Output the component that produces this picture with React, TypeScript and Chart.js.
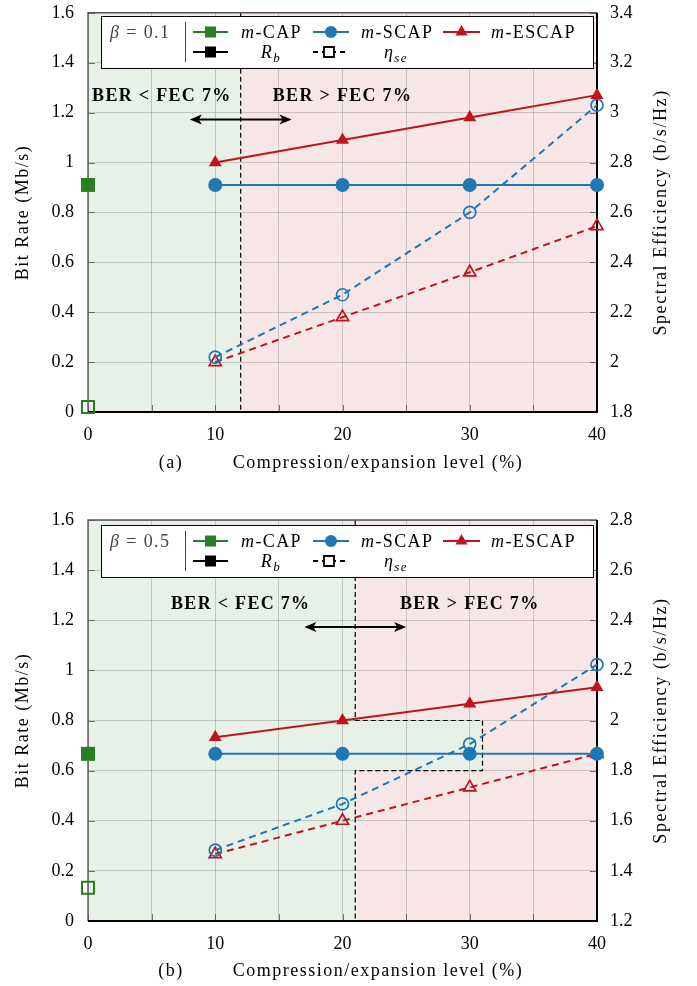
import React, { useEffect, useRef } from 'react';
import { Chart, registerables } from 'chart.js';

Chart.register(...registerables);

const FONT = '"Liberation Serif", "Times New Roman", serif';
const GREEN = '#2a7e22';
const BLUE = '#1f77b4';
const RED = '#c0141c';
const GREEN_BG = 'rgb(232,241,231)';
const RED_BG = 'rgb(247,230,230)';

// ---------------- data ----------------
const capLevel = [0];
const levels = [10, 20, 30, 40];
const rateRange = [0, 1.6];
const levelRange = [0, 40];

// panel (a): beta = 0.1
const aCapRate = [0.91];
const aCapEff = [1.82];
const aScapRate = [0.91, 0.91, 0.91, 0.91];
const aEscapRate = [1.0, 1.09, 1.18, 1.27];
const aScapEff = [2.02, 2.27, 2.6, 3.03];
const aEscapEff = [2.0, 2.18, 2.36, 2.545];
const aEffRange = [1.8, 3.4];
const aFecLimit = 12;

// panel (b): beta = 0.5
const bCapRate = [0.667];
const bCapEff = [1.333];
const bScapRate = [0.667, 0.667, 0.667, 0.667];
const bEscapRate = [0.733, 0.8, 0.867, 0.933];
const bScapEff = [1.483, 1.667, 1.906, 2.223];
const bEscapEff = [1.467, 1.6, 1.733, 1.867];
const bEffRange = [1.2, 2.8];
const bFecLimit = 21;
const bInsetX = [21, 31];
const bInsetY = [0.6, 0.8];

type Panel = {
  tag: string; beta: string;
  capRate: number[]; capEff: number[]; scapRate: number[]; escapRate: number[];
  scapEff: number[]; escapEff: number[]; effRange: number[]; limit: number;
  inset: null | { x: number[]; y: number[] };
  belowX: number; aboveX: number; textY: number; arrowX: number[]; arrowY: number;
  canvasTop: number; canvasH: number; topPad: number; xH: number; legendTop: number; titleBase: number;
};

// legendTop / titleBase are page coordinates; converted to canvas coordinates when drawing
const panels: Panel[] = [
  {
    tag: '(a)', beta: '0.1', capRate: aCapRate, capEff: aCapEff, scapRate: aScapRate, escapRate: aEscapRate,
    scapEff: aScapEff, escapEff: aEscapEff, effRange: aEffRange, limit: aFecLimit, inset: null,
    belowX: 5.8, aboveX: 20, textY: 1.272, arrowX: [8, 16], arrowY: 1.172,
    canvasTop: -12, canvasH: 505, topPad: 24, xH: 81, legendTop: 16, titleBase: 468,
  },
  {
    tag: '(b)', beta: '0.5', capRate: bCapRate, capEff: bCapEff, scapRate: bScapRate, escapRate: bEscapRate,
    scapEff: bScapEff, escapEff: bEscapEff, effRange: bEffRange, limit: bFecLimit, inset: { x: bInsetX, y: bInsetY },
    belowX: 12, aboveX: 30, textY: 1.269, arrowX: [17, 25], arrowY: 1.173,
    canvasTop: 493, canvasH: 493, topPad: 27, xH: 65, legendTop: 525, titleBase: 976,
  },
];

const zip = (xs: number[], ys: number[]) => xs.map((x, i) => ({ x, y: ys[i] }));
const fmt = (v: number) => String(Math.round(v * 10) / 10);

// ---------------- text helpers ----------------
type Seg = { t: string; f?: string; s?: number; dy?: number };
function fontOf(seg: Seg, size: number) {
  const s = seg.s ?? size;
  const f = seg.f ?? 'r';
  const style = f.includes('i') ? 'italic ' : '';
  const weight = f.includes('b') ? 'bold ' : '';
  return `${style}${weight}${s}px ${FONT}`;
}
function drawRich(ctx: CanvasRenderingContext2D, segs: Seg[], x: number, base: number, align: string, size = 18, ls = 1.4) {
  ctx.save();
  (ctx as any).letterSpacing = `${ls}px`;
  ctx.textBaseline = 'alphabetic';
  ctx.textAlign = 'left';
  const widths = segs.map((sg) => { ctx.font = fontOf(sg, size); return ctx.measureText(sg.t).width; });
  const total = widths.reduce((a, b) => a + b, 0);
  let cx = align === 'center' ? x - total / 2 : align === 'right' ? x - total : x;
  segs.forEach((sg, i) => {
    ctx.font = fontOf(sg, size);
    ctx.fillText(sg.t, cx, base + (sg.dy ?? 0));
    cx += widths[i];
  });
  ctx.restore();
}

function marker(ctx: CanvasRenderingContext2D, kind: string, x: number, y: number, color: string, filled: boolean, r: number) {
  ctx.save();
  ctx.beginPath();
  if (kind === 'rect') ctx.rect(x - r, y - r, 2 * r, 2 * r);
  else if (kind === 'circle') ctx.arc(x, y, r, 0, Math.PI * 2);
  else {
    for (let k = 0; k < 3; k++) {
      const a = (k * 2 * Math.PI) / 3;
      const px = x + Math.sin(a) * r, py = y - Math.cos(a) * r;
      if (k === 0) ctx.moveTo(px, py); else ctx.lineTo(px, py);
    }
    ctx.closePath();
  }
  if (filled) { ctx.fillStyle = color; ctx.fill(); }
  else { ctx.fillStyle = '#fff'; ctx.fill(); ctx.strokeStyle = color; ctx.lineWidth = 1.8; ctx.stroke(); }
  ctx.restore();
}

function sample(ctx: CanvasRenderingContext2D, x1: number, x2: number, y: number, color: string, dashed: boolean) {
  ctx.save();
  ctx.strokeStyle = color;
  ctx.lineWidth = 2;
  if (dashed) ctx.setLineDash([5, 4]);
  ctx.beginPath(); ctx.moveTo(x1, y); ctx.lineTo(x2, y); ctx.stroke();
  ctx.restore();
}

function drawLegend(ctx: CanvasRenderingContext2D, top: number, beta: string) {
  const L = 101, R = 593, H = 52;
  ctx.save();
  ctx.fillStyle = '#fff';
  ctx.fillRect(L, top, R - L, H);
  ctx.strokeStyle = '#000';
  ctx.lineWidth = 1;
  ctx.strokeRect(L + 0.5, top + 0.5, R - L, H);
  const r1 = top + 16, r2 = top + 36;
  ctx.fillStyle = '#444';
  drawRich(ctx, [{ t: 'β', f: 'i' }, { t: ' = ' + beta }], 110, r1 + 6, 'left');
  ctx.strokeStyle = '#444';
  ctx.beginPath(); ctx.moveTo(185.5, top + 6); ctx.lineTo(185.5, top + 46); ctx.stroke();
  ctx.fillStyle = '#000';
  sample(ctx, 193, 228, r1, GREEN, false); marker(ctx, 'rect', 210.5, r1, GREEN, true, 5.5);
  drawRich(ctx, [{ t: 'm', f: 'i' }, { t: '-CAP' }], 241, r1 + 6, 'left');
  sample(ctx, 313, 349, r1, BLUE, false); marker(ctx, 'circle', 331, r1, BLUE, true, 6);
  drawRich(ctx, [{ t: 'm', f: 'i' }, { t: '-SCAP' }], 361, r1 + 6, 'left');
  sample(ctx, 443, 480, r1, RED, false); marker(ctx, 'tri', 461.5, r1, RED, true, 7);
  drawRich(ctx, [{ t: 'm', f: 'i' }, { t: '-ESCAP' }], 491, r1 + 6, 'left');
  sample(ctx, 193, 228, r2, '#000', false); marker(ctx, 'rect', 210.5, r2, '#000', true, 5.5);
  drawRich(ctx, [{ t: 'R', f: 'i' }, { t: 'b', f: 'i', s: 13, dy: 4 }], 271, r2 + 6, 'center');
  sample(ctx, 313, 349, r2, '#000', true); marker(ctx, 'rect', 329, r2, '#000', false, 5);
  drawRich(ctx, [{ t: 'η', f: 'i' }, { t: 'se', f: 'i', s: 13, dy: 4 }], 396, r2 + 6, 'center');
  ctx.restore();
}

function arrow(ctx: CanvasRenderingContext2D, x1: number, x2: number, y: number) {
  ctx.save();
  ctx.strokeStyle = '#000';
  ctx.fillStyle = '#000';
  ctx.lineWidth = 2;
  ctx.beginPath(); ctx.moveTo(x1 + 8, y); ctx.lineTo(x2 - 8, y); ctx.stroke();
  ctx.beginPath();
  ctx.moveTo(x1, y); ctx.lineTo(x1 + 12, y - 5); ctx.lineTo(x1 + 9, y); ctx.lineTo(x1 + 12, y + 5); ctx.closePath();
  ctx.moveTo(x2, y); ctx.lineTo(x2 - 12, y - 5); ctx.lineTo(x2 - 9, y); ctx.lineTo(x2 - 12, y + 5); ctx.closePath();
  ctx.fill();
  ctx.restore();
}

function makePlugin(p: Panel) {
  return {
    id: 'decor' + p.tag,
    beforeDraw(chart: any) {
      const ctx = chart.ctx as CanvasRenderingContext2D;
      const { left, right, top, bottom } = chart.chartArea;
      const xs = chart.scales.x, ys = chart.scales.y;
      const xl = xs.getPixelForValue(p.limit);
      ctx.save();
      ctx.fillStyle = GREEN_BG; ctx.fillRect(left, top, xl - left, bottom - top);
      ctx.fillStyle = RED_BG; ctx.fillRect(xl, top, right - xl, bottom - top);
      if (p.inset) {
        const ix1 = xs.getPixelForValue(p.inset.x[0]), ix2 = xs.getPixelForValue(p.inset.x[1]);
        const iy1 = ys.getPixelForValue(p.inset.y[1]), iy2 = ys.getPixelForValue(p.inset.y[0]);
        ctx.fillStyle = GREEN_BG; ctx.fillRect(ix1, iy1, ix2 - ix1, iy2 - iy1);
      }
      ctx.restore();
    },
    beforeDatasetsDraw(chart: any) {
      const ctx = chart.ctx as CanvasRenderingContext2D;
      const { left, right, top, bottom } = chart.chartArea;
      const xs = chart.scales.x, ys = chart.scales.y;
      ctx.save();
      ctx.strokeStyle = 'rgba(70,70,70,0.75)';
      ctx.lineWidth = 1;
      ys.ticks.forEach((t: any) => {
        const y = Math.round(ys.getPixelForValue(t.value)) + 0.5;
        ctx.beginPath(); ctx.moveTo(left, y); ctx.lineTo(left + 7, y); ctx.moveTo(right, y); ctx.lineTo(right - 7, y); ctx.stroke();
      });
      xs.ticks.forEach((t: any) => {
        const x = Math.round(xs.getPixelForValue(t.value)) + 0.5;
        ctx.beginPath(); ctx.moveTo(x, bottom); ctx.lineTo(x, bottom - 7); ctx.stroke();
      });
      const xl = xs.getPixelForValue(p.limit);
      ctx.strokeStyle = '#000';
      ctx.lineWidth = 1.2;
      ctx.setLineDash([5, 3]);
      ctx.beginPath();
      if (p.inset) {
        const ix2 = xs.getPixelForValue(p.inset.x[1]);
        const iyTop = ys.getPixelForValue(p.inset.y[1]), iyBot = ys.getPixelForValue(p.inset.y[0]);
        ctx.moveTo(xl, top); ctx.lineTo(xl, iyTop); ctx.lineTo(ix2, iyTop); ctx.lineTo(ix2, iyBot); ctx.lineTo(xl, iyBot); ctx.lineTo(xl, bottom);
      } else {
        ctx.moveTo(xl, top); ctx.lineTo(xl, bottom);
      }
      ctx.stroke();
      ctx.setLineDash([]);
      ctx.strokeStyle = '#555'; ctx.lineWidth = 1.4;
      ctx.beginPath(); ctx.moveTo(left, bottom); ctx.lineTo(left, top); ctx.lineTo(right, top); ctx.stroke();
      ctx.strokeStyle = '#000'; ctx.lineWidth = 2;
      ctx.beginPath(); ctx.moveTo(left, bottom); ctx.lineTo(right, bottom); ctx.lineTo(right, top); ctx.stroke();
      ctx.restore();
    },
    afterDraw(chart: any) {
      const ctx = chart.ctx as CanvasRenderingContext2D;
      const { top, bottom } = chart.chartArea;
      const xs = chart.scales.x, ys = chart.scales.y;
      const off = p.canvasTop;
      ctx.save();
      ctx.fillStyle = '#000';
      const ty = ys.getPixelForValue(p.textY) + 6;
      drawRich(ctx, [{ t: 'BER < FEC 7%', f: 'b' }], xs.getPixelForValue(p.belowX), ty, 'center', 18, 1.3);
      drawRich(ctx, [{ t: 'BER > FEC 7%', f: 'b' }], xs.getPixelForValue(p.aboveX), ty, 'center', 18, 1.3);
      arrow(ctx, xs.getPixelForValue(p.arrowX[0]), xs.getPixelForValue(p.arrowX[1]), ys.getPixelForValue(p.arrowY));
      drawLegend(ctx, p.legendTop - off, p.beta);
      const midY = (top + bottom) / 2;
      ctx.save(); ctx.translate(22 + 6, midY); ctx.rotate(-Math.PI / 2);
      drawRich(ctx, [{ t: 'Bit Rate (Mb/s)' }], 0, 0, 'center', 18, 1.5);
      ctx.restore();
      ctx.save(); ctx.translate(660 + 6, midY); ctx.rotate(-Math.PI / 2);
      drawRich(ctx, [{ t: 'Spectral Efficiency (b/s/Hz)' }], 0, 0, 'center', 18, 1.6);
      ctx.restore();
      drawRich(ctx, [{ t: p.tag }], 171, p.titleBase - off, 'center', 18, 1.5);
      drawRich(ctx, [{ t: 'Compression/expansion level (%)' }], 378, p.titleBase - off, 'center', 18, 1.5);
      ctx.restore();
    },
  };
}

function makeConfig(p: Panel): any {
  const tickFont = { family: FONT, size: 18 };
  return {
    type: 'line',
    data: {
      datasets: [
        { data: zip(capLevel, p.capRate), yAxisID: 'y', showLine: false, pointStyle: 'rect', pointRadius: 9.9,
          pointBackgroundColor: GREEN, pointBorderColor: GREEN, pointBorderWidth: 0, borderColor: GREEN, clip: false },
        { data: zip(capLevel, p.capEff), yAxisID: 'y1', showLine: false, pointStyle: 'rect', pointRadius: 8.5,
          pointBackgroundColor: 'rgba(0,0,0,0)', pointBorderColor: GREEN, pointBorderWidth: 2, borderColor: GREEN, clip: false },
        { data: zip(levels, p.scapRate), yAxisID: 'y', borderColor: BLUE, borderWidth: 2, pointStyle: 'circle', pointRadius: 7,
          pointBackgroundColor: BLUE, pointBorderColor: BLUE, pointBorderWidth: 0, clip: false },
        { data: zip(levels, p.escapRate), yAxisID: 'y', borderColor: RED, borderWidth: 2, pointStyle: 'triangle', pointRadius: 7.5,
          pointBackgroundColor: RED, pointBorderColor: RED, pointBorderWidth: 0, clip: false },
        { data: zip(levels, p.scapEff), yAxisID: 'y1', borderColor: BLUE, borderWidth: 2, borderDash: [7, 5], pointStyle: 'circle', pointRadius: 6,
          pointBackgroundColor: 'rgba(0,0,0,0)', pointBorderColor: BLUE, pointBorderWidth: 1.7, clip: false },
        { data: zip(levels, p.escapEff), yAxisID: 'y1', borderColor: RED, borderWidth: 2, borderDash: [7, 5], pointStyle: 'triangle', pointRadius: 7,
          pointBackgroundColor: 'rgba(0,0,0,0)', pointBorderColor: RED, pointBorderWidth: 1.7, clip: false },
      ],
    },
    options: {
      responsive: false,
      animation: false,
      events: [],
      layout: { padding: { top: p.topPad, left: 0, right: 0, bottom: 0 } },
      elements: { line: { tension: 0 } },
      plugins: { legend: { display: false }, tooltip: { enabled: false } },
      scales: {
        x: {
          type: 'linear', min: levelRange[0], max: levelRange[1],
          ticks: { stepSize: 5, autoSkip: false, maxRotation: 0, padding: 12, font: tickFont, color: '#000',
            callback: (v: number) => (v % 10 === 0 ? String(v) : '') },
          grid: { color: 'rgba(120,120,120,0.35)', drawTicks: false },
          border: { display: false },
          afterFit: (s: any) => { s.height = p.xH; },
        },
        y: {
          type: 'linear', position: 'left', min: rateRange[0], max: rateRange[1],
          ticks: { stepSize: 0.2, padding: 14, font: tickFont, color: '#000', callback: (v: number) => fmt(v) },
          grid: { color: 'rgba(120,120,120,0.35)', drawTicks: false },
          border: { display: false },
          afterFit: (s: any) => { s.width = 88; },
        },
        y1: {
          type: 'linear', position: 'right', min: p.effRange[0], max: p.effRange[1],
          ticks: { stepSize: 0.2, padding: 13, font: tickFont, color: '#000', callback: (v: number) => fmt(v) },
          grid: { display: false, drawTicks: false },
          border: { display: false },
          afterFit: (s: any) => { s.width = 100; },
        },
      },
    },
    plugins: [makePlugin(p)],
  };
}

function PanelChart({ p }: { p: Panel }) {
  const ref = useRef<HTMLCanvasElement | null>(null);
  useEffect(() => {
    if (!ref.current) return;
    const chart = new Chart(ref.current, makeConfig(p));
    return () => chart.destroy();
  }, [p]);
  return (
    <canvas
      ref={ref}
      width={697}
      height={p.canvasH}
      style={{ position: 'absolute', left: 0, top: p.canvasTop, display: 'block', width: 697, height: p.canvasH }}
    />
  );
}

export default function App() {
  return (
    <div style={{ position: 'absolute', left: 0, top: 0, width: 697, height: 986, background: '#fff', overflow: 'hidden' }}>
      {panels.map((p) => <PanelChart key={p.tag} p={p} />)}
    </div>
  );
}
